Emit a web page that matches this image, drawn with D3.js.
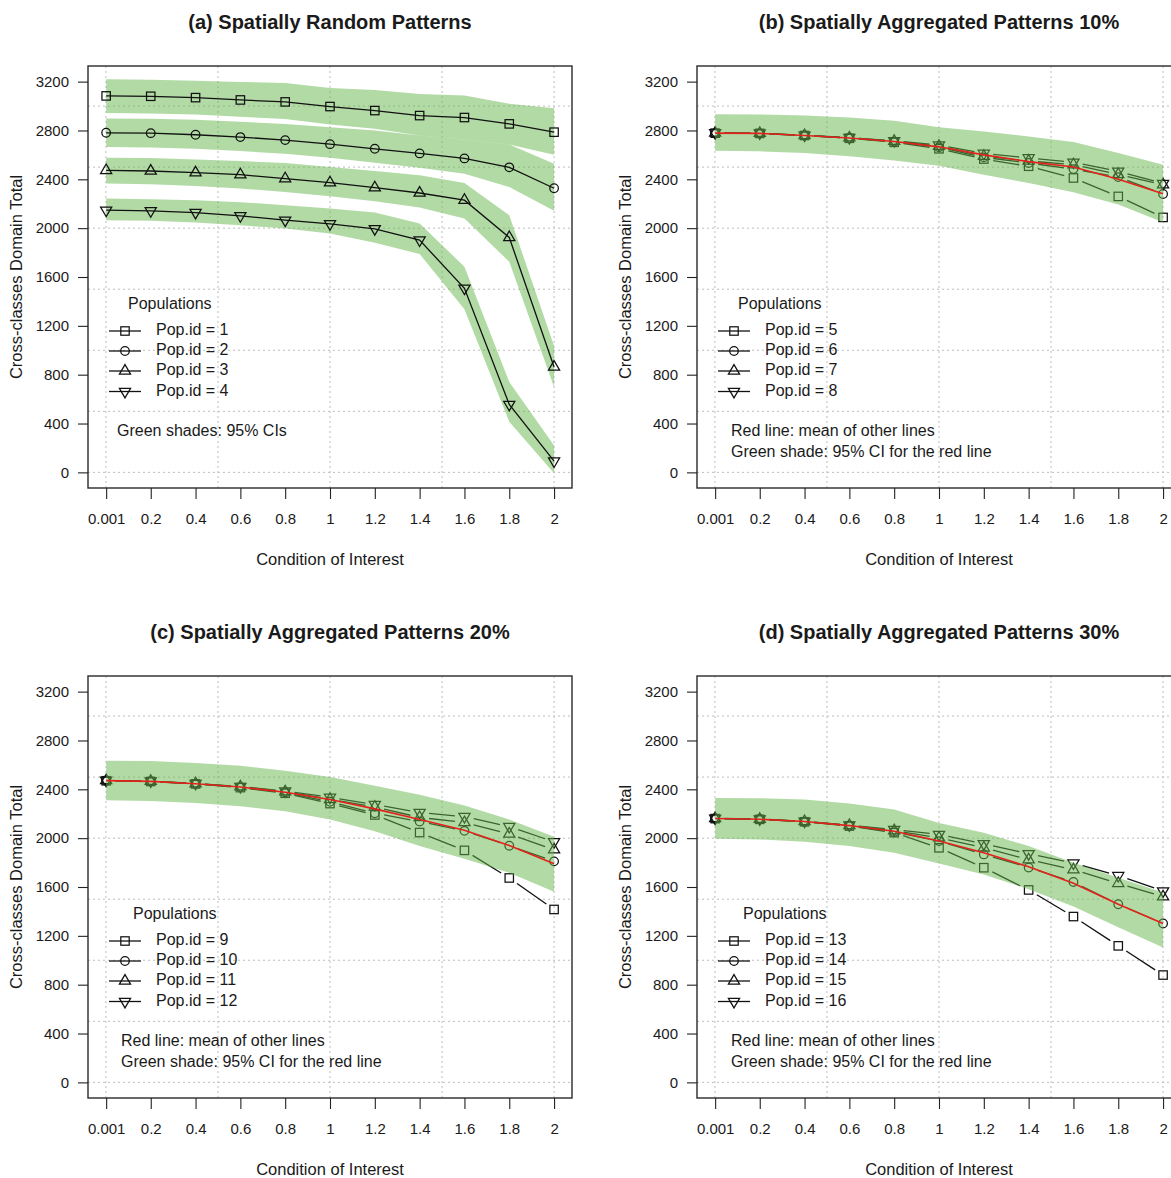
<!DOCTYPE html>
<html>
<head>
<meta charset="utf-8">
<script src="https://cdn.jsdelivr.net/npm/d3@7"></script>
<style>
  body { margin: 0; background: #fff; }
  svg { display: block; font-family: "Liberation Sans", Arial, Helvetica, sans-serif; }
</style>
</head>
<body>
<script>
// Eje x y marcas
var xVals = [0.001, 0.2, 0.4, 0.6, 0.8, 1, 1.2, 1.4, 1.6, 1.8, 2];
var xLabels = ["0.001", "0.2", "0.4", "0.6", "0.8", "1", "1.2", "1.4", "1.6", "1.8", "2"];
var yTicks = [0, 400, 800, 1200, 1600, 2000, 2400, 2800, 3200];
var gridY = [0, 500, 1000, 1500, 2000, 2500, 3000];
var gridX = [0, 0.5, 1, 1.5, 2];

var titles = ["(a) Spatially Random Patterns", "(b) Spatially Aggregated Patterns 10%",
              "(c) Spatially Aggregated Patterns 20%", "(d) Spatially Aggregated Patterns 30%"];
var markers = ["square", "circle", "up", "down"];

// (a) poblaciones 1-4 con su IC 95%
var pop1 = [3083, 3080, 3069, 3050, 3034, 2996, 2963, 2922, 2906, 2854, 2786];
var pop1Lo = [2944, 2939, 2930, 2912, 2893, 2849, 2814, 2759, 2724, 2686, 2601];
var pop1Hi = [3219, 3216, 3208, 3197, 3189, 3148, 3132, 3099, 3086, 3018, 2982];
var pop2 = [2781, 2778, 2765, 2746, 2721, 2688, 2650, 2612, 2571, 2498, 2327];
var pop2Lo = [2664, 2661, 2650, 2631, 2610, 2577, 2536, 2495, 2446, 2337, 2142];
var pop2Hi = [2898, 2895, 2887, 2871, 2854, 2827, 2800, 2759, 2724, 2686, 2528];
var pop3 = [2473, 2468, 2454, 2438, 2405, 2373, 2332, 2288, 2229, 1924, 863];
var pop3Lo = [2365, 2359, 2346, 2324, 2297, 2261, 2220, 2169, 2079, 1725, 700];
var pop3Hi = [2577, 2574, 2563, 2550, 2533, 2501, 2468, 2433, 2370, 2106, 1034];
var pop4 = [2147, 2142, 2128, 2101, 2065, 2035, 1995, 1902, 1508, 556, 92];
var pop4Lo = [2065, 2060, 2046, 2024, 1997, 1956, 1880, 1788, 1335, 415, -8];
var pop4Hi = [2242, 2237, 2229, 2213, 2188, 2161, 2128, 2038, 1684, 741, 220];

// (b) poblaciones 5-8, media e IC
var pop5 = [2778, 2776, 2759, 2736, 2703, 2650, 2566, 2507, 2411, 2260, 2088];
var pop6 = [2778, 2776, 2759, 2738, 2708, 2662, 2580, 2534, 2484, 2418, 2280];
var pop7 = [2779, 2777, 2760, 2740, 2712, 2672, 2590, 2550, 2520, 2440, 2356];
var pop8 = [2780, 2778, 2761, 2741, 2716, 2680, 2612, 2575, 2540, 2466, 2366];
var meanB = [2778, 2776, 2759, 2738, 2710, 2666, 2600, 2545, 2501, 2400, 2281];
var meanBLo = [2634, 2629, 2615, 2588, 2555, 2512, 2438, 2370, 2294, 2194, 2049];
var meanBHi = [2933, 2931, 2923, 2906, 2879, 2827, 2792, 2751, 2705, 2615, 2520];

// (c) poblaciones 9-12
var pop9 = [2470, 2464, 2444, 2414, 2368, 2283, 2190, 2046, 1900, 1674, 1416];
var pop10 = [2471, 2465, 2445, 2418, 2373, 2298, 2204, 2136, 2060, 1938, 1810];
var pop11 = [2472, 2466, 2447, 2421, 2380, 2318, 2255, 2170, 2128, 2035, 1905];
var pop12 = [2473, 2467, 2448, 2423, 2386, 2335, 2275, 2210, 2176, 2095, 1970];
var meanC = [2471, 2465, 2446, 2419, 2376, 2316, 2240, 2152, 2065, 1940, 1790];
var meanCLo = [2310, 2305, 2288, 2261, 2220, 2152, 2057, 1935, 1831, 1717, 1562];
var meanCHi = [2634, 2631, 2615, 2593, 2552, 2501, 2430, 2356, 2267, 2152, 2011];

// (d) poblaciones 13-16
var pop13 = [2160, 2154, 2134, 2099, 2045, 1921, 1758, 1576, 1358, 1118, 879];
var pop14 = [2161, 2155, 2135, 2102, 2050, 1976, 1867, 1760, 1641, 1459, 1301];
var pop15 = [2162, 2156, 2137, 2105, 2062, 2003, 1921, 1824, 1742, 1630, 1521];
var pop16 = [2163, 2157, 2138, 2107, 2070, 2030, 1954, 1872, 1796, 1693, 1567];
var meanD = [2161, 2155, 2136, 2103, 2057, 1976, 1880, 1766, 1630, 1459, 1301];
var meanDLo = [1995, 1989, 1970, 1935, 1880, 1793, 1703, 1581, 1440, 1270, 1105];
var meanDHi = [2329, 2327, 2316, 2283, 2234, 2125, 2044, 1935, 1799, 1676, 1554];

var panels = [
  { title: titles[0], ids: [1, 2, 3, 4], series: [pop1, pop2, pop3, pop4],
    ci: [[pop1Lo, pop1Hi], [pop2Lo, pop2Hi], [pop3Lo, pop3Hi], [pop4Lo, pop4Hi]],
    notes: ["Green shades: 95% CIs"], popX: 128, noteX: 117 },
  { title: titles[1], ids: [5, 6, 7, 8], series: [pop5, pop6, pop7, pop8],
    mean: meanB, lo: meanBLo, hi: meanBHi, popX: 129, noteX: 122 },
  { title: titles[2], ids: [9, 10, 11, 12], series: [pop9, pop10, pop11, pop12],
    mean: meanC, lo: meanCLo, hi: meanCHi, popX: 133, noteX: 121 },
  { title: titles[3], ids: [13, 14, 15, 16], series: [pop13, pop14, pop15, pop16],
    mean: meanD, lo: meanDLo, hi: meanDHi, popX: 134, noteX: 122 }
];

var W = 1171, H = 1178;
var green = "rgb(101,181,75)";
var txt = "#1a1a1a";

var svg = d3.select("body").append("svg")
    .attr("width", W)
    .attr("height", H);

// ojo: "top" es global del navegador, por eso otros nombres
var pL = 88, pR = 572, pT = 66, pB = 488;
var x = d3.scaleLinear().domain([-0.08, 2.08]).range([pL, pR]);
var y = d3.scaleLinear().domain([-128, 3328]).range([pB, pT]);

function marker(g, type, cx, cy, color) {
  var sw = 1.25;
  if (type === "square") {
    g.append("rect").attr("x", cx - 4.2).attr("y", cy - 4.2)
      .attr("width", 8.4).attr("height", 8.4)
      .attr("fill", "none").attr("stroke", color).attr("stroke-width", sw);
  } else if (type === "circle") {
    g.append("circle").attr("cx", cx).attr("cy", cy).attr("r", 4.3)
      .attr("fill", "none").attr("stroke", color).attr("stroke-width", sw);
  } else {
    var s = type === "up" ? 1 : -1;
    var p = "M" + cx + "," + (cy - 6.4 * s) +
            "L" + (cx + 5.6) + "," + (cy + 3.2 * s) +
            "L" + (cx - 5.6) + "," + (cy + 3.2 * s) + "Z";
    g.append("path").attr("d", p)
      .attr("fill", "none").attr("stroke", color).attr("stroke-width", sw);
  }
}

// segmentos tipo "b": con hueco alrededor de cada punto
function gappedLine(g, vals, gap) {
  for (var i = 0; i < vals.length - 1; i++) {
    var x1 = x(xVals[i]), y1 = y(vals[i]), x2 = x(xVals[i + 1]), y2 = y(vals[i + 1]);
    var dx = x2 - x1, dy = y2 - y1, len = Math.sqrt(dx * dx + dy * dy);
    if (len <= 2 * gap) continue;
    var ux = dx / len, uy = dy / len;
    g.append("line")
      .attr("x1", x1 + ux * gap).attr("y1", y1 + uy * gap)
      .attr("x2", x2 - ux * gap).attr("y2", y2 - uy * gap)
      .attr("stroke", "#111").attr("stroke-width", 1.3);
  }
}

panels.forEach(function(p, k) {
  var col = k % 2, row = Math.floor(k / 2);
  var g = svg.append("g").attr("transform", "translate(" + (col * 609) + "," + (row * 610) + ")");

  // rejilla punteada
  g.selectAll(".gy").data(gridY).enter().append("line")
    .attr("x1", pL).attr("x2", pR)
    .attr("y1", function(d) { return y(d); }).attr("y2", function(d) { return y(d); })
    .attr("stroke", "#bdbdbd").attr("stroke-width", 1).attr("stroke-dasharray", "2,3");
  g.selectAll(".gx").data(gridX).enter().append("line")
    .attr("y1", pT).attr("y2", pB)
    .attr("x1", function(d) { return x(d); }).attr("x2", function(d) { return x(d); })
    .attr("stroke", "#bdbdbd").attr("stroke-width", 1).attr("stroke-dasharray", "2,3");

  var area = d3.area()
    .x(function(d, i) { return x(xVals[i]); })
    .y0(function(d) { return y(d[0]); })
    .y1(function(d) { return y(d[1]); });
  var line = d3.line()
    .x(function(d, i) { return x(xVals[i]); })
    .y(function(d) { return y(d); });

  if (p.ci) {
    // bandas primero, luego lineas negras
    p.ci.forEach(function(c) {
      var pts = c[0].map(function(v, i) { return [v, c[1][i]]; });
      g.append("path").attr("d", area(pts))
        .attr("fill", green).attr("fill-opacity", 0.5);
    });
    p.series.forEach(function(s, j) {
      g.append("path").attr("d", line(s))
        .attr("fill", "none").attr("stroke", "#111").attr("stroke-width", 1.3);
      s.forEach(function(v, i) { marker(g, markers[j], x(xVals[i]), y(v), "#111"); });
    });
  } else {
    p.series.forEach(function(s, j) {
      gappedLine(g, s, 9.5);
      s.forEach(function(v, i) { marker(g, markers[j], x(xVals[i]), y(v), "#111"); });
    });
    var pts = p.lo.map(function(v, i) { return [v, p.hi[i]]; });
    g.append("path").attr("d", area(pts))
      .attr("fill", green).attr("fill-opacity", 0.5);
    g.append("path").attr("d", line(p.mean))
      .attr("fill", "none").attr("stroke", "#e3231b").attr("stroke-width", 1.6);
  }

  // caja
  g.append("rect").attr("x", pL).attr("y", pT)
    .attr("width", pR - pL).attr("height", pB - pT)
    .attr("fill", "none").attr("stroke", "#2a2a2a").attr("stroke-width", 1.4);

  // ejes
  var ay = g.append("g").attr("transform", "translate(" + pL + ",0)")
    .call(d3.axisLeft(y).tickValues(yTicks).tickSize(10).tickPadding(9).tickFormat(d3.format("d")));
  var ax = g.append("g").attr("transform", "translate(0," + pB + ")")
    .call(d3.axisBottom(x).tickValues(xVals).tickSize(11).tickPadding(14)
      .tickFormat(function(d, i) { return xLabels[i]; }));
  [ay, ax].forEach(function(a) {
    a.select(".domain").remove();
    a.selectAll("line").attr("stroke", "#222").attr("stroke-width", 1.1);
    a.selectAll("text").attr("fill", txt).style("font-size", "15px")
      .style("font-family", "'Liberation Sans', Arial, sans-serif");
  });

  // titulos
  g.append("text").attr("x", 330).attr("y", 24)
    .attr("text-anchor", "middle").attr("dominant-baseline", "middle")
    .style("font-size", "20px").style("font-weight", "bold").attr("fill", txt)
    .text(p.title);
  g.append("text").attr("x", 330).attr("y", 561)
    .attr("text-anchor", "middle").attr("dominant-baseline", "middle")
    .style("font-size", "16.5px").attr("fill", txt)
    .text("Condition of Interest");
  g.append("text").attr("transform", "translate(18,277) rotate(-90)")
    .attr("text-anchor", "middle").attr("dominant-baseline", "middle")
    .style("font-size", "16.5px").attr("fill", txt)
    .text("Cross-classes Domain Total");

  // leyenda
  var lg = g.append("g");
  lg.append("text").attr("x", p.popX).attr("y", 305)
    .attr("dominant-baseline", "middle").style("font-size", "16px").attr("fill", txt)
    .text("Populations");
  var rows = [331, 351, 371, 391.5];
  p.ids.forEach(function(id, j) {
    lg.append("line").attr("x1", 109).attr("x2", 141)
      .attr("y1", rows[j]).attr("y2", rows[j])
      .attr("stroke", "#111").attr("stroke-width", 1.3);
    marker(lg, markers[j], 125, rows[j], "#111");
    lg.append("text").attr("x", 156).attr("y", rows[j])
      .attr("dominant-baseline", "middle").style("font-size", "16px").attr("fill", txt)
      .text("Pop.id = " + id);
  });
  var notes = p.notes || ["Red line: mean of other lines", "Green shade: 95% CI for the red line"];
  notes.forEach(function(n, j) {
    lg.append("text").attr("x", p.noteX).attr("y", 432 + j * 20.5)
      .attr("dominant-baseline", "middle").style("font-size", "16px").attr("fill", txt)
      .text(n);
  });
});
</script>
</body>
</html>
